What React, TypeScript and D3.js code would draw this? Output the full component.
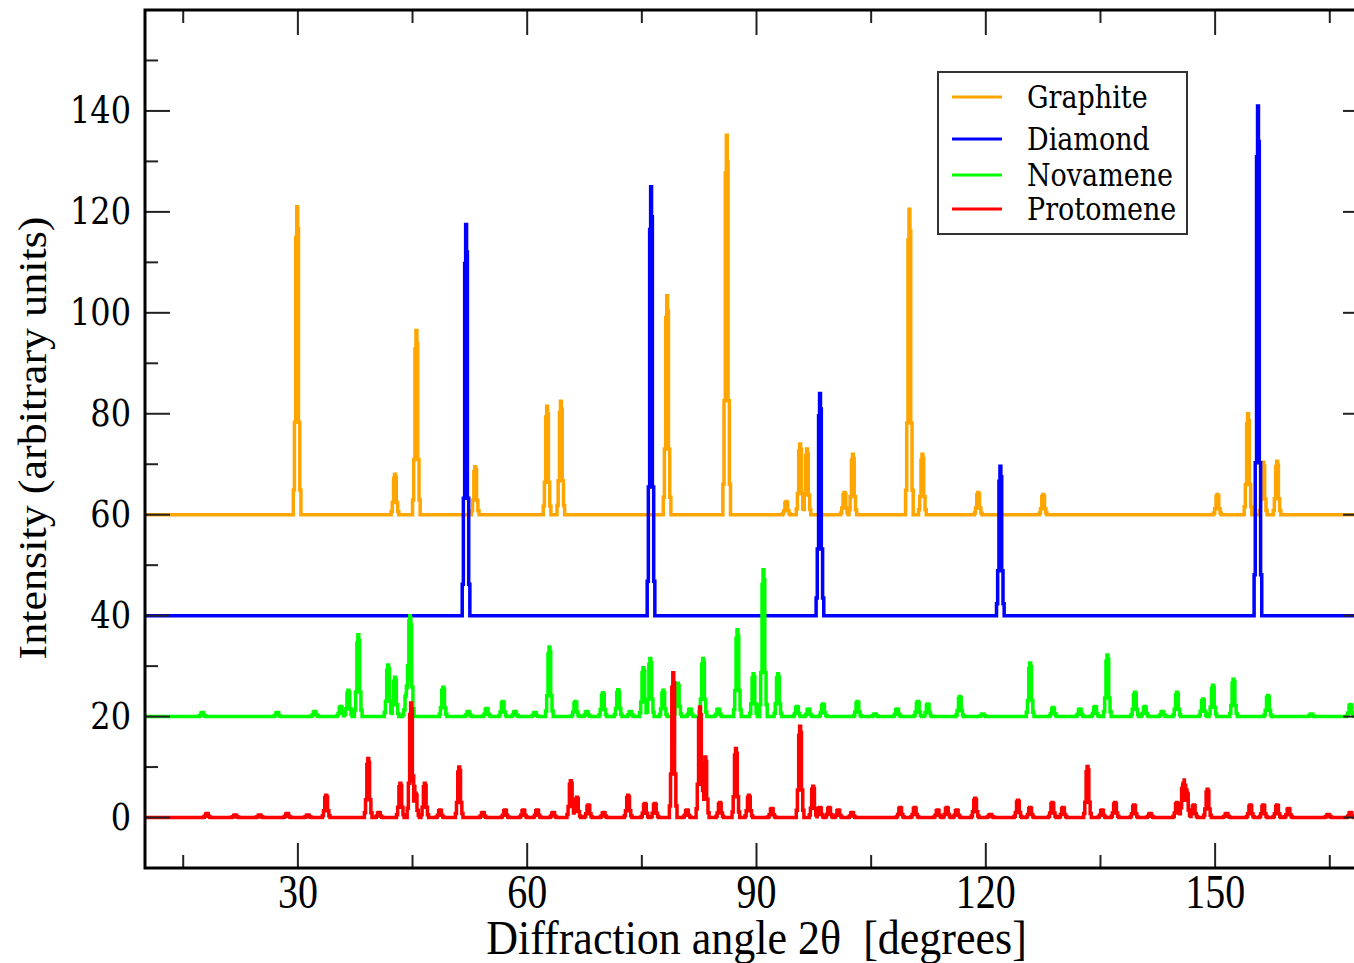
import React from "react";
import * as d3 from "d3";

// ---- data (angle in degrees 2θ, peak height above the series baseline) ----
const SERIES_NAMES = ["Graphite", "Diamond", "Novamene", "Protomene"];
const SERIES_COLORS = ["#FFA500", "#0000FF", "#00FF00", "#FF0000"];
const SERIES_OFFSETS = [60, 40, 20, 0];

const GRAPHITE_PEAKS: [number, number][] = [
  [29.9, 61], [42.7, 8], [45.5, 36.5], [53.2, 9.5], [62.6, 21.5], [64.4, 22.5],
  [78.3, 43.4], [86.1, 75.2], [93.9, 2.6], [95.7, 14], [96.6, 13], [101.5, 4.4],
  [102.6, 12], [110.0, 60.5], [111.7, 12], [119.0, 4.4], [127.5, 4], [150.3, 4],
  [154.3, 20], [156.3, 10.4], [158.1, 10.6],
];
const DIAMOND_PEAKS: [number, number][] = [
  [52.0, 77.5], [76.2, 85], [98.3, 44], [121.9, 29.6], [155.6, 101],
];
const NOVAMENE_PEAKS: [number, number][] = [
  [17.5, 0.8], [27.3, 0.8], [32.2, 1], [35.6, 2], [36.6, 5.2], [37.9, 16.2],
  [41.8, 10.2], [42.7, 7.8], [44.2, 4.5], [44.7, 19.6], [49.0, 5.8], [52.3, 1],
  [54.7, 1.6], [56.8, 3], [58.4, 1], [61.0, 0.8], [62.9, 13.8], [66.3, 3],
  [67.8, 1], [69.9, 4.7], [71.9, 5.3], [73.5, 1], [75.2, 9.7], [76.1, 11.5],
  [77.8, 5.2], [79.7, 6.6], [81.3, 1.5], [83.0, 11.5], [85.0, 1.5], [87.5, 17.2],
  [89.6, 8.5], [90.9, 29.1], [92.8, 8.5], [95.3, 2], [96.8, 1.5], [98.7, 2.5],
  [103.2, 3], [105.5, 0.5], [108.4, 1.5], [111.1, 3], [112.4, 2.5], [116.6, 4],
  [119.6, 0.5], [125.8, 10.6], [128.8, 1.8], [132.3, 1.5], [134.3, 2], [135.9, 12.2],
  [139.5, 4.8], [140.8, 2], [143.1, 1], [145.0, 4.8], [148.4, 3.5], [149.7, 6.2],
  [152.4, 7.4], [156.9, 4.2], [162.6, 0.5], [167.7, 2.4],
];
const PROTOMENE_PEAKS: [number, number][] = [
  [18.1, 0.8], [21.8, 0.5], [25.0, 0.5], [28.6, 0.8], [31.3, 0.5], [33.7, 4.4],
  [39.2, 11.7], [40.6, 1], [43.4, 6.8], [44.8, 22.7], [45.4, 4.8], [46.6, 6.8],
  [48.6, 1.5], [51.1, 10], [54.2, 1], [57.1, 1.5], [59.5, 1.5], [61.3, 1.5],
  [63.4, 1], [65.7, 7.3], [66.5, 4], [68.0, 2.5], [70.0, 1], [73.2, 4.4],
  [75.4, 2.8], [76.7, 2.8], [79.1, 28.7], [80.9, 1.5], [82.6, 21.9], [83.3, 12],
  [85.2, 3], [87.3, 13.7], [89.0, 4.4], [92.0, 1.8], [95.7, 18.1], [97.4, 6.2],
  [98.3, 2], [99.5, 2], [100.7, 1.5], [102.5, 1], [108.8, 2], [110.7, 2],
  [113.7, 1.5], [114.9, 2], [116.2, 1.5], [118.6, 3.8], [120.6, 0.6], [124.2, 3.4],
  [125.8, 2], [128.7, 3], [130.1, 2], [133.3, 10.1], [135.2, 1.5], [136.9, 3],
  [139.4, 2.5], [141.5, 0.8], [145.0, 3], [145.8, 6.4], [146.3, 5], [147.2, 2.5],
  [149.0, 5.6], [151.5, 0.8], [154.6, 2.5], [156.3, 2.5], [158.1, 2.5], [159.6, 1.8],
  [164.8, 0.6], [167.7, 1],
];
const SERIES_PEAKS = [GRAPHITE_PEAKS, DIAMOND_PEAKS, NOVAMENE_PEAKS, PROTOMENE_PEAKS];

const X_DOMAIN: [number, number] = [10, 170];
const Y_DOMAIN: [number, number] = [-10, 160];
const X_MAJOR_TICKS = [30, 60, 90, 120, 150];
const X_MINOR_TICKS = [15, 45, 75, 105, 135, 165];
const Y_MAJOR_TICKS = [0, 20, 40, 60, 80, 100, 120, 140];
const Y_MINOR_TICKS = [10, 30, 50, 70, 90, 110, 130, 150];

const X_LABEL = "Diffraction angle 2\u03b8  [degrees]";
const Y_LABEL = "Intensity (arbitrary units)";

// shape of one diffraction peak: [offset in degrees, fraction of height]
const PEAK_PROFILE: [number, number][] = [
  [-0.65, 0], [-0.5, 0.08], [-0.35, 0.3], [-0.18, 0.9], [-0.05, 1], [0.07, 0.93],
  [0.18, 0.3], [0.35, 0.08], [0.5, 0],
];

// ---- layout ----
const W = 1354, H = 963;
const L = 145, R = 1368, T = 10, B = 868;

function frac(d: number): number {
  const eps = 1e-9;
  if (d < PEAK_PROFILE[0][0] - eps) return 0;
  let f = 0;
  for (let i = 0; i < PEAK_PROFILE.length; i++) {
    if (d >= PEAK_PROFILE[i][0] - eps) f = PEAK_PROFILE[i][1];
  }
  return f;
}

function buildLine(peaks: [number, number][], offset: number): [number, number][] {
  const bps: number[] = [X_DOMAIN[0], X_DOMAIN[1]];
  peaks.forEach(([px]) => PEAK_PROFILE.forEach(([o]) => bps.push(px + o)));
  const xs = Array.from(new Set(bps.map((v) => Math.round(v * 1e6) / 1e6)))
    .filter((v) => v >= X_DOMAIN[0] && v <= X_DOMAIN[1])
    .sort((a, b) => a - b);
  return xs.map((x) => {
    let v = offset;
    peaks.forEach(([px, h]) => { v += frac(x - px) * h; });
    return [x, v];
  });
}

export default function App() {
  const x = d3.scaleLinear().domain(X_DOMAIN).range([L, R]);
  const y = d3.scaleLinear().domain(Y_DOMAIN).range([B, T]);
  const line = d3.line<[number, number]>()
    .x((d) => x(d[0]))
    .y((d) => y(d[1]))
    .curve(d3.curveStepAfter);

  const tickColor = "#222";
  const majorLen = 25, minorLen = 13;

  const legendX = 938, legendY = 72, legendW = 249, legendH = 162;
  const legendRows = [97, 139, 175, 209];

  return (
    <svg width={W} height={H} style={{ position: "absolute", left: 0, top: 0, background: "#fff" }}>
      <rect x={0} y={0} width={W} height={H} fill="#fff" />
      <defs>
        <clipPath id="plot">
          <rect x={L} y={T} width={R - L} height={B - T} />
        </clipPath>
      </defs>
      <g clipPath="url(#plot)">
        {SERIES_PEAKS.map((peaks, i) => (
          <path key={SERIES_NAMES[i]}
            d={line(buildLine(peaks, SERIES_OFFSETS[i])) || ""}
            fill="none" stroke={SERIES_COLORS[i]} strokeWidth={3.5}
            strokeLinejoin="miter" />
        ))}
      </g>
      {/* ticks */}
      <g stroke={tickColor} strokeWidth={2}>
        {X_MAJOR_TICKS.map((t) => (
          <g key={"xM" + t}>
            <line x1={x(t)} x2={x(t)} y1={B} y2={B - majorLen} />
            <line x1={x(t)} x2={x(t)} y1={T} y2={T + majorLen} />
          </g>
        ))}
        {X_MINOR_TICKS.map((t) => (
          <g key={"xm" + t}>
            <line x1={x(t)} x2={x(t)} y1={B} y2={B - minorLen} />
            <line x1={x(t)} x2={x(t)} y1={T} y2={T + minorLen} />
          </g>
        ))}
        {Y_MAJOR_TICKS.map((t) => (
          <g key={"yM" + t}>
            <line x1={L} x2={L + majorLen} y1={y(t)} y2={y(t)} />
            <line x1={R} x2={R - majorLen} y1={y(t)} y2={y(t)} />
          </g>
        ))}
        {Y_MINOR_TICKS.map((t) => (
          <g key={"ym" + t}>
            <line x1={L} x2={L + minorLen} y1={y(t)} y2={y(t)} />
            <line x1={R} x2={R - minorLen} y1={y(t)} y2={y(t)} />
          </g>
        ))}
      </g>
      <rect x={L} y={T} width={R - L} height={B - T} fill="none" stroke="#000" strokeWidth={3} />
      {/* tick labels */}
      {X_MAJOR_TICKS.map((t) => (
        <text key={"xl" + t} transform={`translate(${x(t)},908) scale(1,1.2)`}
          textAnchor="middle" fontFamily="'Liberation Serif', serif" fontSize={40} fill="#000">
          {t}
        </text>
      ))}
      {Y_MAJOR_TICKS.map((t) => (
        <text key={"yl" + t} transform={`translate(131,${y(t) + 12}) scale(1,1.15)`}
          textAnchor="end" fontFamily="'DejaVu Serif', serif" fontSize={32} fill="#000">
          {t}
        </text>
      ))}
      {/* axis titles */}
      <text transform={`translate(${x(90)},954) scale(1.1,1.2)`} textAnchor="middle"
        fontFamily="'Liberation Serif', serif" fontSize={40} fill="#000"
        style={{ whiteSpace: "pre" }} xmlSpace="preserve">
        {X_LABEL}
      </text>
      <text transform={`translate(46,438) rotate(-90) scale(1.13,1)`} textAnchor="middle"
        fontFamily="'Liberation Serif', serif" fontSize={39} fill="#000">
        {Y_LABEL}
      </text>
      {/* legend */}
      <rect x={legendX} y={legendY} width={legendW} height={legendH} fill="#fff" stroke="#333" strokeWidth={2} />
      {SERIES_NAMES.map((name, i) => (
        <g key={"lg" + name}>
          <line x1={952} x2={1002} y1={legendRows[i]} y2={legendRows[i]} stroke={SERIES_COLORS[i]} strokeWidth={3} />
          <text transform={`translate(1027,${legendRows[i] + 11}) scale(1,1.15)`}
            fontFamily="'DejaVu Serif', serif" fontSize={27} fill="#000">
            {name}
          </text>
        </g>
      ))}
    </svg>
  );
}
